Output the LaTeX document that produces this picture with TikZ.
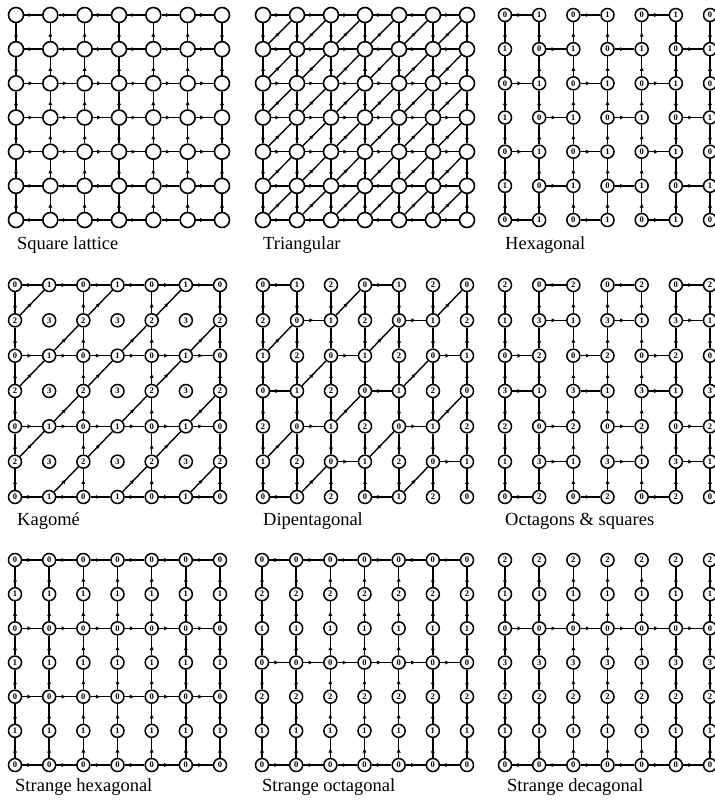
\documentclass[tikz,border=0pt]{standalone}
\usepackage{fontspec}
\setmainfont{Liberation Serif}
\usetikzlibrary{arrows.meta,decorations.markings}
\tikzset{
  lnk/.style={line width=1.4pt, postaction={decorate},
    decoration={markings, mark=at position 0.5 with {\arrow{Latex[length=4.6pt,width=4.2pt]}}}},
  bignode/.style={circle, draw, line width=1.6pt, fill=white, minimum size=15pt, inner sep=0pt},
  numnode/.style={circle, draw, line width=1.5pt, fill=white, minimum size=13pt, inner sep=0pt,
    font=\fontsize{8.5}{8.5}\selectfont\bfseries},
  ptitle/.style={anchor=base west, inner sep=0pt, font=\fontsize{18.5}{18.5}\selectfont}
}
\newcommand\mkgrid[6]{%
  \foreach \rr in {0,...,6}{%
    \foreach \cc in {0,...,6}{%
      \node[#2] (#1-\cc-\rr) at ({\GX+\GDX*\cc},{\GY+\GDY*\rr}) {#3};
    }%
  }%
  \foreach \rr in {0,...,6}{%
    \foreach \cc [evaluate=\cc as \cn using int(\cc+1)] in {0,...,5}{%
      \pgfmathtruncatemacro\ok{#4}%
      \ifnum\ok>0 \draw[lnk] (#1-\cc-\rr) -- (#1-\cn-\rr);\fi
    }%
  }%
  \foreach \cc in {0,...,6}{%
    \foreach \rr [evaluate=\rr as \rn using int(\rr+1)] in {0,...,5}{%
      \pgfmathtruncatemacro\ok{#5}%
      \ifnum\ok>0 \draw[lnk] (#1-\cc-\rn) -- (#1-\cc-\rr);\fi
    }%
  }%
  \foreach \rr [evaluate=\rr as \rp using int(\rr-1)] in {1,...,6}{%
    \foreach \cc [evaluate=\cc as \cn using int(\cc+1)] in {0,...,5}{%
      \pgfmathtruncatemacro\ok{#6}%
      \ifnum\ok>0 \draw[lnk] (#1-\cc-\rr) -- (#1-\cn-\rp);\fi
    }%
  }%
}
\begin{document}
\begin{tikzpicture}[x=1pt,y=-1pt]
\useasboundingbox (0,0) rectangle (715,804);
% Square lattice
\def\GX{16}\def\GDX{34.33}\def\GY{15}\def\GDY{34.17}
\mkgrid{A}{bignode}{}{1}{1}{0}
% Triangular
\def\GX{263}\def\GDX{34}\def\GY{15}\def\GDY{34.17}
\mkgrid{B}{bignode}{}{1}{1}{1}
% Hexagonal
\def\GX{505}\def\GDX{34.17}\def\GY{15}\def\GDY{34.17}
\mkgrid{C}{numnode}{\pgfmathparse{int(mod(\cc+\rr,2))}\pgfmathresult}{mod(\cc+\rr,2)==0}{1}{0}
% Kagome
\def\GX{15}\def\GDX{34.17}\def\GY{285}\def\GDY{35.33}
\mkgrid{D}{numnode}{\pgfmathparse{int(mod(\cc,2)+2*mod(\rr,2))}\pgfmathresult}{mod(\rr,2)==0}{mod(\cc,2)==0}{mod(\cc+\rr,2)==1}
% Dipentagonal
\def\GX{263}\def\GDX{34}\def\GY{285}\def\GDY{35.33}
\mkgrid{E}{numnode}{\pgfmathparse{int(mod(\cc-\rr+9,3))}\pgfmathresult}{mod(\cc-\rr+9,3)==0}{1}{mod(\cc-\rr+9,3)==1}
% Octagons & squares
\def\GX{505}\def\GDX{34.17}\def\GY{285}\def\GDY{35.33}
\mkgrid{F}{numnode}{\pgfmathparse{int(mod(6-\rr+2*mod(\cc,2),4))}\pgfmathresult}{mod(\cc+floor(\rr/2),2)==1}{1}{0}
% Strange hexagonal
\def\GX{15}\def\GDX{34.17}\def\GY{560}\def\GDY{34.17}
\mkgrid{G}{numnode}{\pgfmathparse{int(mod(\rr,2))}\pgfmathresult}{mod(\rr,2)==0}{1}{0}
% Strange octagonal
\def\GX{262}\def\GDX{34.17}\def\GY{560}\def\GDY{34.17}
\mkgrid{H}{numnode}{\pgfmathparse{int(mod(9-\rr,3))}\pgfmathresult}{mod(\rr,3)==0}{1}{0}
% Strange decagonal
\def\GX{505}\def\GDX{34.17}\def\GY{560}\def\GDY{34.17}
\mkgrid{I}{numnode}{\pgfmathparse{int(mod(6-\rr,4))}\pgfmathresult}{mod(\rr,4)==2}{1}{0}
% titles
\node[ptitle] (tA) at (17,249) {Square lattice};
\node[ptitle] (tB) at (263,249) {Triangular};
\node[ptitle] (tC) at (505,249) {Hexagonal};
\node[ptitle] (tD) at (17,525) {Kagomé};
\node[ptitle] (tE) at (263,525) {Dipentagonal};
\node[ptitle] (tF) at (505,525) {Octagons \& squares};
\node[ptitle] (tG) at (15,791) {Strange hexagonal};
\node[ptitle] (tH) at (262,791) {Strange octagonal};
\node[ptitle] (tI) at (507,791) {Strange decagonal};
\end{tikzpicture}
\end{document}
